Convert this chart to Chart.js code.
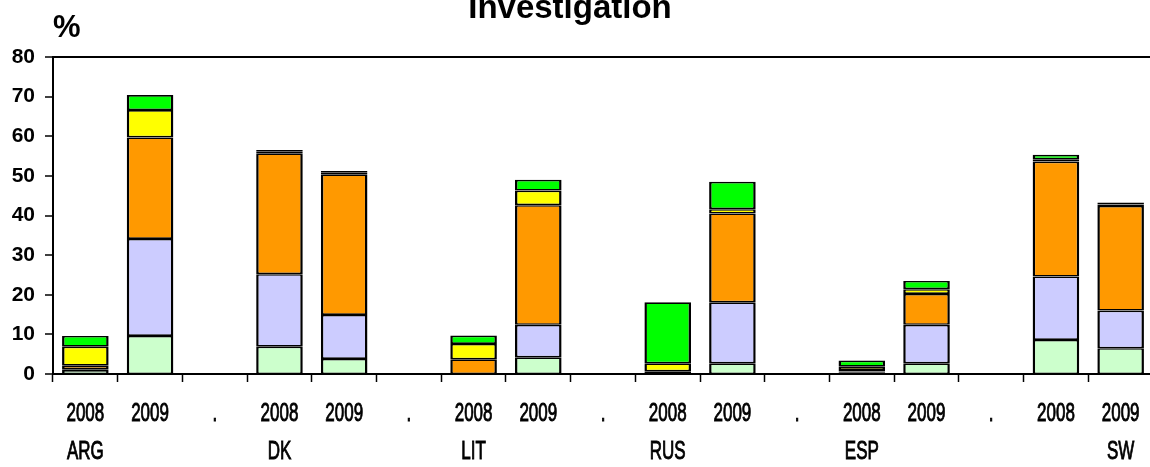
<!DOCTYPE html>
<html>
<head>
<meta charset="utf-8">
<script src="https://cdn.jsdelivr.net/npm/chart.js@4.4.1/dist/chart.umd.min.js"></script>
<style>
  html, body { margin: 0; padding: 0; background: #fff; overflow: hidden; }
  #wrap { width: 1153px; height: 467px; }
</style>
</head>
<body>
<div id="wrap"><canvas id="c" width="1153" height="467"></canvas></div>
<script>
// Category axis: year per bar, "." as spacer between countries
const years = ['2008', '2009', '.', '2008', '2009', '.', '2008', '2009', '.', '2008', '2009', '.', '2008', '2009', '.', '2008', '2009'];
const countries = ['ARG', '', '', 'DK', '', '', 'LIT', '', '', 'RUS', '', '', 'ESP', '', '', '', 'SW'];
const yTicks = [0, 10, 20, 30, 40, 50, 60, 70, 80];

// Stacked shares (%), bottom to top
const lightGreen = [1.0, 9.6, null, 6.9, 3.8, null, 0, 4.2, null, 0, 2.7, null, 0.3, 2.7, null, 8.6, 6.5];
const lavender   = [0.2, 24.5, null, 18.3, 11.1, null, 0, 8.2, null, 0, 15.4, null, 0.3, 9.7, null, 16.0, 9.5];
const orange     = [0.9, 25.6, null, 30.5, 35.5, null, 3.7, 30.2, null, 0.7, 22.4, null, 0.4, 7.8, null, 29.0, 26.4];
const yellow     = [4.8, 6.9, null, 0.4, 0.4, null, 3.9, 3.7, null, 2.0, 1.1, null, 0.85, 1.2, null, 0.6, 0.4];
const green      = [2.7, 3.8, null, 0.4, 0.4, null, 2.1, 2.7, null, 15.4, 6.9, null, 1.55, 2.1, null, 1.1, 0.5];

const labels = years.map((y, i) => countries[i] ? [y, countries[i]] : y);

const seriesDefs = [
  { label: 'Series 1', data: lightGreen, color: '#CCFFCC' },
  { label: 'Series 2', data: lavender,   color: '#CCCCFF' },
  { label: 'Series 3', data: orange,     color: '#FF9900' },
  { label: 'Series 4', data: yellow,     color: '#FFFF00' },
  { label: 'Series 5', data: green,      color: '#00FF00' }
];

const datasets = seriesDefs.map(s => ({
  label: s.label,
  data: s.data,
  backgroundColor: s.color,
  borderColor: '#000',
  borderWidth: { left: 2.5, right: 2.5, top: 1.6, bottom: 1.6 },
  borderSkipped: false,
  inflateAmount: 0,
  barPercentage: 1,
  categoryPercentage: 0.72
}));

// Heading text, unit marker and condensed category labels
const textPlugin = {
  id: 'texts',
  afterDraw(chart) {
    const ctx = chart.ctx;
    ctx.save();
    ctx.fillStyle = '#000';
    ctx.textBaseline = 'alphabetic';
    ctx.textAlign = 'center';
    ctx.font = 'bold 33px "Liberation Sans", Arial, sans-serif';
    ctx.fillText('Investigation', 570, 18);
    ctx.textAlign = 'left';
    ctx.font = 'bold 31px "Liberation Sans", Arial, sans-serif';
    ctx.fillText('%', 53, 37);

    const xs = chart.scales.x;
    const squeeze = 0.68;
    ctx.font = '25px "Liberation Sans", Arial, sans-serif';
    ctx.textAlign = 'center';
    ctx.textBaseline = 'middle';
    ctx.strokeStyle = '#000';
    ctx.lineWidth = 0.9;
    const rowTop = xs.top + 40;
    const rowGap = 38;
    chart.data.labels.forEach((lab, i) => {
      const lines = Array.isArray(lab) ? lab : [lab];
      const px = xs.getPixelForValue(i);
      lines.forEach((t, j) => {
        ctx.save();
        ctx.translate(px, rowTop + j * rowGap);
        ctx.scale(squeeze, 1);
        ctx.fillText(t, 0, 0);
        ctx.strokeText(t, 0, 0);
        ctx.restore();
      });
    });
    ctx.restore();
  }
};

new Chart(document.getElementById('c'), {
  type: 'bar',
  data: { labels, datasets },
  options: {
    responsive: false,
    animation: false,
    layout: { padding: { top: 57, left: 0, right: 0, bottom: 0 } },
    plugins: {
      legend: { display: false },
      title: { display: false },
      tooltip: { enabled: false }
    },
    scales: {
      x: {
        stacked: true,
        offset: true,
        afterFit(scale) {
          scale.height = 93;
          scale.paddingLeft = 0;
          scale.paddingRight = 0;
        },
        border: { display: true, color: '#000', width: 2 },
        grid: {
          offset: true,
          drawOnChartArea: false,
          drawTicks: true,
          tickLength: 8,
          tickColor: '#000',
          tickWidth: 1.5
        },
        ticks: {
          display: false,
          autoSkip: false,
          maxRotation: 0,
          minRotation: 0
        }
      },
      y: {
        stacked: true,
        min: 0,
        max: 80,
        afterFit(scale) { scale.width = 53; },
        afterBuildTicks(scale) { scale.ticks = yTicks.map(v => ({ value: v })); },
        border: { display: true, color: '#000', width: 2 },
        grid: {
          drawTicks: true,
          tickLength: 8,
          tickColor: '#000',
          tickWidth: 1.5,
          color: c => (c.tick && c.tick.value === 80) ? '#000' : 'rgba(0,0,0,0)',
          lineWidth: c => (c.tick && c.tick.value === 80) ? 2 : 0
        },
        ticks: {
          padding: 10,
          color: '#000',
          font: { family: '"Liberation Sans", Arial, sans-serif', size: 21, weight: 'bold' }
        }
      }
    }
  },
  plugins: [textPlugin]
});
</script>
</body>
</html>
